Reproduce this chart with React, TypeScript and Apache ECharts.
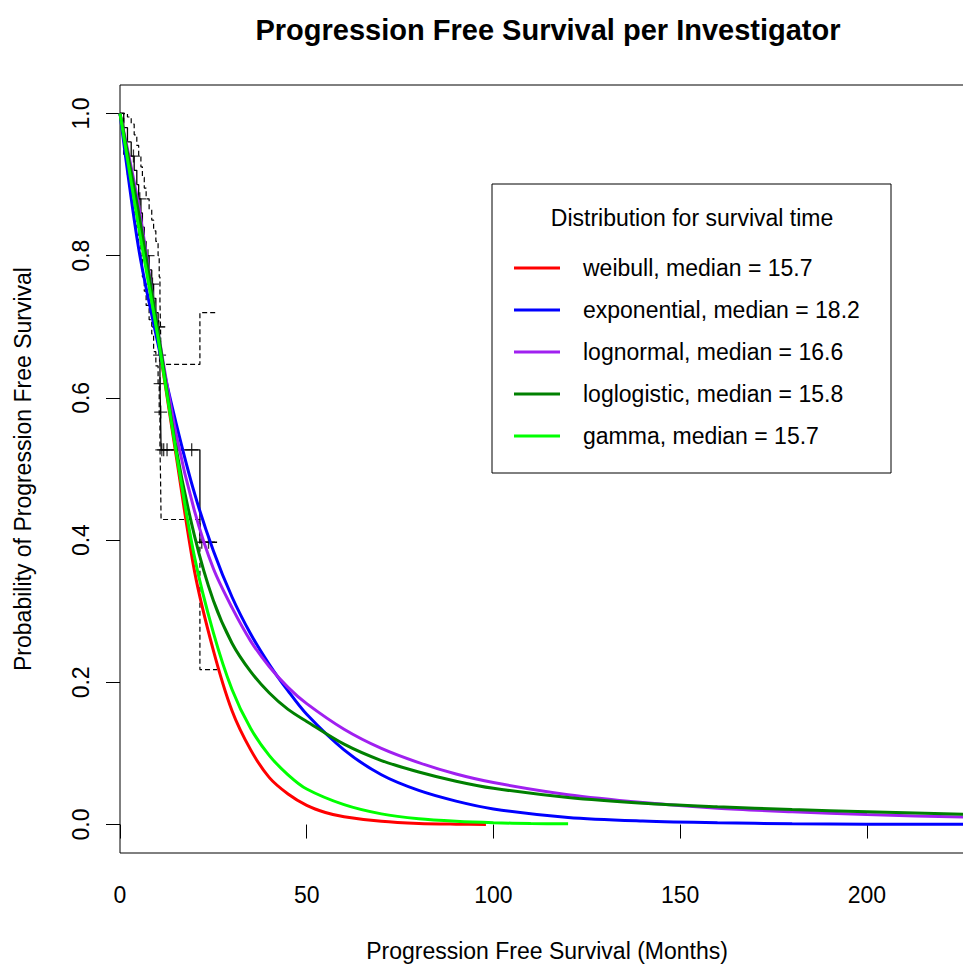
import React, { useEffect, useRef } from "react";
import * as echarts from "echarts";

const FONT = '"Liberation Sans", Arial, Helvetica, sans-serif';

const titleText = "Progression Free Survival per Investigator";
const xAxisTitle = "Progression Free Survival (Months)";
const yAxisTitle = "Probability of Progression Free Survival";
const legendTitle = "Distribution for survival time";

const xTicks = [0, 50, 100, 150, 200];
const yTicks = [0, 0.2, 0.4, 0.6, 0.8, 1.0];

const seriesNames = [
  "weibull, median = 15.7",
  "exponential, median = 18.2",
  "lognormal, median = 16.6",
  "loglogistic, median = 15.8",
  "gamma, median = 15.7",
];
const seriesColors = ["#FF0000", "#0000FF", "#A020F0", "#008000", "#00FF00"];

// Fitted survival curves (time in months, survival probability)
const weibullT = [0, 5, 10, 15, 20, 25, 30, 35, 40, 45, 50, 55, 60, 70, 80, 90, 98];
const weibullS = [1, 0.85, 0.69, 0.52, 0.355, 0.245, 0.16, 0.105, 0.066, 0.043, 0.027, 0.017, 0.011, 0.0045, 0.0015, 0.0005, 0.0002];

const gridT = [0, 5, 10, 15, 20, 25, 30, 35, 40, 45, 50, 60, 70, 80, 90, 100, 120, 140, 160, 180, 200, 230];
const exponentialS = [1, 0.81, 0.68, 0.565, 0.465, 0.385, 0.32, 0.268, 0.225, 0.188, 0.155, 0.105, 0.07, 0.048, 0.033, 0.022, 0.01, 0.005, 0.0025, 0.0012, 0.0006, 0.0003];
const lognormalS = [1, 0.87, 0.7, 0.55, 0.44, 0.36, 0.305, 0.258, 0.222, 0.193, 0.17, 0.134, 0.107, 0.087, 0.071, 0.059, 0.042, 0.031, 0.023, 0.018, 0.014, 0.01];
const loglogisticS = [1, 0.86, 0.7, 0.53, 0.405, 0.315, 0.255, 0.215, 0.185, 0.162, 0.145, 0.113, 0.09, 0.074, 0.061, 0.051, 0.038, 0.03, 0.025, 0.021, 0.018, 0.014];

const gammaT = [0, 5, 10, 15, 20, 25, 30, 35, 40, 45, 50, 60, 70, 80, 90, 100, 110, 120];
const gammaS = [1, 0.84, 0.69, 0.525, 0.375, 0.27, 0.19, 0.135, 0.097, 0.07, 0.05, 0.028, 0.015, 0.008, 0.0045, 0.0025, 0.0015, 0.001];

// Kaplan-Meier estimate with confidence limits
const kmT = [0, 1, 2, 3, 3.8, 4.5, 5, 5.6, 6, 6.5, 7, 7.8, 8.5, 9, 9.6, 10.2, 10.5, 10.7, 10.85, 11.0, 21.4, 26];
const kmS = [1, 0.98, 0.96, 0.94, 0.92, 0.9, 0.88, 0.86, 0.84, 0.82, 0.8, 0.78, 0.76, 0.74, 0.72, 0.7, 0.66, 0.62, 0.58, 0.527, 0.397, 0.397];
const kmUpper = [1, 1, 0.995, 0.985, 0.97, 0.955, 0.94, 0.925, 0.91, 0.895, 0.88, 0.865, 0.85, 0.835, 0.82, 0.8, 0.77, 0.735, 0.7, 0.647, 0.72, 0.72];
const kmLower = [1, 0.94, 0.91, 0.885, 0.86, 0.84, 0.815, 0.795, 0.77, 0.75, 0.73, 0.71, 0.69, 0.665, 0.645, 0.62, 0.575, 0.53, 0.49, 0.429, 0.218, 0.218];

// Censored observations
const censorT = [3.6, 5.3, 7.5, 8.7, 10.3, 10.4, 10.6, 10.75, 10.9, 11.2, 11.7, 12.6, 15.3, 19.2, 21.9, 23.7];
const censorS = [0.94, 0.88, 0.8, 0.76, 0.7, 0.7, 0.66, 0.62, 0.58, 0.527, 0.527, 0.527, 0.527, 0.527, 0.397, 0.397];

const zip = (t: number[], s: number[]) => t.map((v, i) => [v, s[i]]);

export default function App() {
  const ref = useRef<HTMLDivElement>(null);

  useEffect(() => {
    if (!ref.current) return;
    const chart = echarts.init(ref.current, null, { renderer: "svg" });

    const curveData = [
      zip(weibullT, weibullS),
      zip(gridT, exponentialS),
      zip(gridT, lognormalS),
      zip(gridT, loglogisticS),
      zip(gammaT, gammaS),
    ];

    const dashed = {
      color: "#000",
      width: 1.2,
      type: [5, 3] as number[],
    };

    const series: any[] = [
      {
        name: "KM",
        type: "line",
        step: "end",
        symbol: "none",
        data: zip(kmT, kmS),
        lineStyle: { color: "#000", width: 1.3 },
        z: 2,
      },
      {
        name: "KM upper",
        type: "line",
        step: "end",
        symbol: "none",
        data: zip(kmT, kmUpper),
        lineStyle: dashed,
        z: 2,
      },
      {
        name: "KM lower",
        type: "line",
        step: "end",
        symbol: "none",
        data: zip(kmT, kmLower),
        lineStyle: dashed,
        z: 2,
      },
      {
        name: "Censored",
        type: "scatter",
        symbol: "path://M5,0 L5,10 M0,5 L10,5",
        symbolSize: 13,
        data: zip(censorT, censorS),
        itemStyle: { color: "none", borderColor: "#000", borderWidth: 1.3 },
        z: 2,
      },
      ...seriesNames.map((name, i) => ({
        name,
        type: "line",
        symbol: "none",
        smooth: 0.3,
        data: curveData[i],
        color: seriesColors[i],
        itemStyle: { color: seriesColors[i] },
        lineStyle: { color: seriesColors[i], width: 3 },
        z: 3 + i,
      })),
    ];

    const option: any = {
      animation: false,
      backgroundColor: "#fff",
      textStyle: { fontFamily: FONT, color: "#000" },
      title: {
        text: titleText,
        left: 543,
        top: 10,
        textAlign: "center",
        textStyle: { fontFamily: FONT, fontSize: 29, fontWeight: "bold", color: "#000" },
      },
      grid: {
        left: 120,
        top: 85,
        width: 854,
        height: 768,
        show: true,
        borderColor: "#000",
        borderWidth: 1,
        backgroundColor: "transparent",
        containLabel: false,
      },
      xAxis: {
        type: "value",
        min: 0,
        max: 228.7,
        axisLine: { show: false },
        axisTick: { show: true, length: 14, customValues: xTicks, lineStyle: { color: "#000" } },
        axisLabel: {
          customValues: xTicks,
          fontSize: 23,
          fontFamily: FONT,
          color: "#000",
          margin: 30,
        },
        splitLine: { show: false },
      },
      yAxis: {
        type: "value",
        min: -0.04,
        max: 1.04,
        axisLine: { show: false },
        axisTick: { show: true, length: 14, customValues: yTicks, lineStyle: { color: "#000" } },
        axisLabel: {
          customValues: yTicks,
          rotate: 90,
          fontSize: 23,
          fontFamily: FONT,
          color: "#000",
          margin: 28,
          formatter: (v: number) => v.toFixed(1),
        },
        splitLine: { show: false },
      },
      legend: {
        orient: "vertical",
        left: 514,
        top: 256,
        padding: 0,
        icon: "rect",
        itemWidth: 46,
        itemHeight: 3,
        itemGap: 18,
        selectedMode: false,
        data: seriesNames,
        textStyle: {
          fontFamily: FONT,
          fontSize: 23,
          lineHeight: 24,
          color: "#000",
          padding: [0, 0, 0, 18],
        },
      },
      graphic: [
        {
          type: "rect",
          shape: { x: 492, y: 184, width: 399, height: 289 },
          style: { fill: "none", stroke: "#000", lineWidth: 1 },
          z: 1,
        },
        {
          type: "text",
          x: 692,
          y: 218,
          style: {
            text: legendTitle,
            font: `23px ${FONT}`,
            fill: "#000",
            textAlign: "center",
            textVerticalAlign: "middle",
          },
        },
        {
          type: "text",
          x: 547,
          y: 951,
          style: {
            text: xAxisTitle,
            font: `23px ${FONT}`,
            fill: "#000",
            textAlign: "center",
            textVerticalAlign: "middle",
          },
        },
        {
          type: "text",
          x: 23,
          y: 469,
          rotation: Math.PI / 2,
          style: {
            text: yAxisTitle,
            font: `23px ${FONT}`,
            fill: "#000",
            textAlign: "center",
            textVerticalAlign: "middle",
          },
        },
      ],
      series,
    };

    chart.setOption(option);
    return () => chart.dispose();
  }, []);

  return (
    <div
      style={{
        position: "fixed",
        left: 0,
        top: 0,
        width: 963,
        height: 965,
        overflow: "hidden",
        background: "#fff",
      }}
    >
      <div ref={ref} style={{ width: 980, height: 965 }} />
    </div>
  );
}
